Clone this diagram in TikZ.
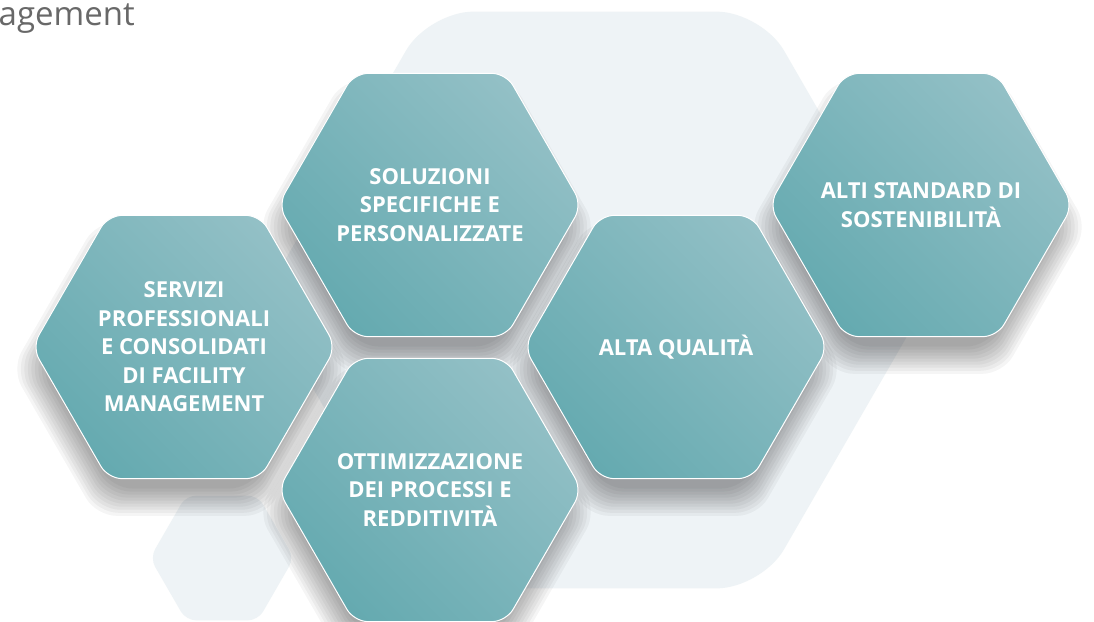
\documentclass[tikz,border=0pt]{standalone}
\usepackage{fontspec}
\setmainfont{Open Sans}
\newfontfamily\headfont{Open Sans}
\usetikzlibrary{shapes.geometric}

\definecolor{tealdark}{RGB}{101,170,176}
\definecolor{teallight}{RGB}{147,192,198}
\definecolor{palebg}{RGB}{238,243,246}
\definecolor{headgray}{RGB}{104,104,104}

\tikzset{
  hexcell/.style={regular polygon, regular polygon sides=6, inner sep=0pt,
    minimum size=304pt, rounded corners=14pt, draw=white, line width=1pt,
    left color=tealdark, right color=teallight, shading angle=135},
  hexshade/.style={regular polygon, regular polygon sides=6, inner sep=0pt,
    rounded corners=20pt, draw=none, fill=black, fill opacity=0.038},
  hexback/.style={regular polygon, regular polygon sides=6, inner sep=0pt,
    draw=none, fill=palebg},
  hexlabel/.style={text=white, align=center, inner sep=0pt,
    font=\fontsize{22}{28.5}\selectfont\bfseries}
}

\begin{document}
\begin{tikzpicture}[x=1pt,y=-1pt]
  \clip (0,0) rectangle (1094,621);
  \fill[white] (0,0) rectangle (1094,621);

  % heading at the top left
  \node[anchor=base east, inner sep=0pt, text=headgray,
        font=\headfont\fontsize{33}{36}\selectfont] (heading) at (135,25) {agement};

  % pale hexagons behind
  \node[hexback, minimum size=666pt, rounded corners=45pt] (bigback) at (595,300) {};
  \node[hexback, minimum size=144pt, rounded corners=10pt] (smallback) at (222,558) {};

  % soft shadows
  \foreach \cx/\cy in {184/347, 430/205, 430/490, 676/347, 921/205}
   \foreach \s in {0,...,9}
    \node[hexshade, minimum size={276pt+7pt*\s}] at (\cx-3,\cy+22) {};

  % the five cells
  \node[hexcell] (servizi)   at (184,347) {};
  \node[hexcell] (soluzioni) at (430,205) {};
  \node[hexcell] (ottimizz)  at (430,490) {};
  \node[hexcell] (qualita)   at (676,347) {};
  \node[hexcell] (standard)  at (921,205) {};

  \node[hexlabel] (servizi-t)   at (servizi)   {SERVIZI\\PROFESSIONALI\\E CONSOLIDATI\\DI FACILITY\\MANAGEMENT};
  \node[hexlabel] (soluzioni-t) at (soluzioni) {SOLUZIONI\\SPECIFICHE E\\PERSONALIZZATE};
  \node[hexlabel] (ottimizz-t)  at (ottimizz)  {OTTIMIZZAZIONE\\DEI PROCESSI E\\REDDITIVITÀ};
  \node[hexlabel] (qualita-t)   at (qualita)   {ALTA QUALITÀ};
  \node[hexlabel] (standard-t)  at (standard)  {ALTI STANDARD DI\\SOSTENIBILITÀ};
\end{tikzpicture}
\end{document}
